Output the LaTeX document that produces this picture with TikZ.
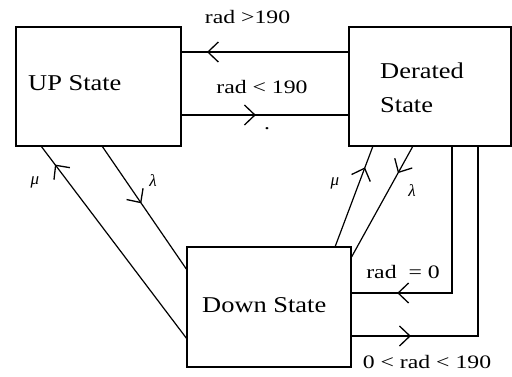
\documentclass[tikz,border=0pt]{standalone}
\usepackage{fontspec}
\setmainfont{Liberation Serif}
\newfontfamily\boxfont[FakeStretch=1.17]{Liberation Serif}
\newfontfamily\labfont[FakeStretch=1.25]{Liberation Serif}
\usetikzlibrary{decorations.markings,calc}

\begin{document}
\begin{tikzpicture}[x=1pt,y=-1pt,
  statebox/.style={draw, line width=1.8pt, inner sep=0pt, outer sep=0pt},
  flow/.style={line width=1.5pt},
  slant/.style={line width=1.2pt},
  arrowat/.style={postaction={decorate}, decoration={markings,
      mark=at position #1 with {\draw[line width=1.3pt, line join=miter]
        (-10.5pt,10pt) -- (0pt,0pt) -- (-10.5pt,-10pt);}}},
  statetext/.style={font=\boxfont\fontsize{22.6}{33.5}\selectfont, inner sep=0pt, anchor=west, align=left},
  cond/.style={font=\labfont\fontsize{19}{21}\selectfont, inner sep=0pt},
  rate/.style={font=\fontsize{17}{19}\selectfont\itshape, inner sep=0pt}
]
\useasboundingbox (0,0) rectangle (512,377);

% the three states
\node[statebox, minimum width=165pt, minimum height=119pt] (up)   at (98.5,86.5) {};
\node[statebox, minimum width=162pt, minimum height=119pt] (der)  at (430,86.5)  {};
\node[statebox, minimum width=164pt, minimum height=120pt] (down) at (269,307)   {};

\node[statetext] (uptext)   at (28,83.5)  {UP State};
\node[statetext] (dertext)  at (380,88)   {Derated\\State};
\node[statetext] (downtext) at (202,305)  {Down State};

% transitions between UP and Derated
\draw[flow, arrowat=0.84] ($(der.north west)+(0,25)$) -- ($(up.north east)+(0,25)$);
\draw[flow, arrowat=0.44] ($(up.north east)+(0,88)$) -- ($(der.north west)+(0,88)$);

% failure / repair paths to the Down state
\draw[slant, arrowat=0.90]  ($(down.south west)+(0,-28)$) -- ($(up.south west)+(25,0)$);
\draw[slant, arrowat=0.456] ($(up.south west)+(86,0)$) -- ($(down.north west)+(0,23)$);
\draw[slant, arrowat=0.78]  ($(down.north west)+(148,0)$) -- ($(der.south west)+(24,0)$);
\draw[slant, arrowat=0.235] ($(der.south west)+(64,0)$) -- ($(down.north east)+(0,11)$);

% radiation-driven paths between Derated and Down
\draw[flow, arrowat=0.81]  ($(der.south west)+(103,0)$) |- ($(down.north east)+(0,46)$);
\draw[flow, arrowat=0.186] ($(down.north east)+(0,89)$) -| ($(der.south west)+(129,0)$);

% conditions
\node[cond] (c1) at (247.5,17) {rad >190};
\node[cond] (c2) at (262,87)   {rad < 190};
\node[cond] (c3) at (267,129)  {.};
\node[cond] (c4) at (403,272)  {rad\ \ = 0};
\node[cond] (c5) at (427,362)  {0 < rad < 190};

% rates
\node[rate] (mu1)  at (35,182)  {μ};
\node[rate] (la1)  at (153,181) {λ};
\node[rate] (mu2)  at (335,183) {μ};
\node[rate] (la2)  at (412,191) {λ};
\end{tikzpicture}
\end{document}
